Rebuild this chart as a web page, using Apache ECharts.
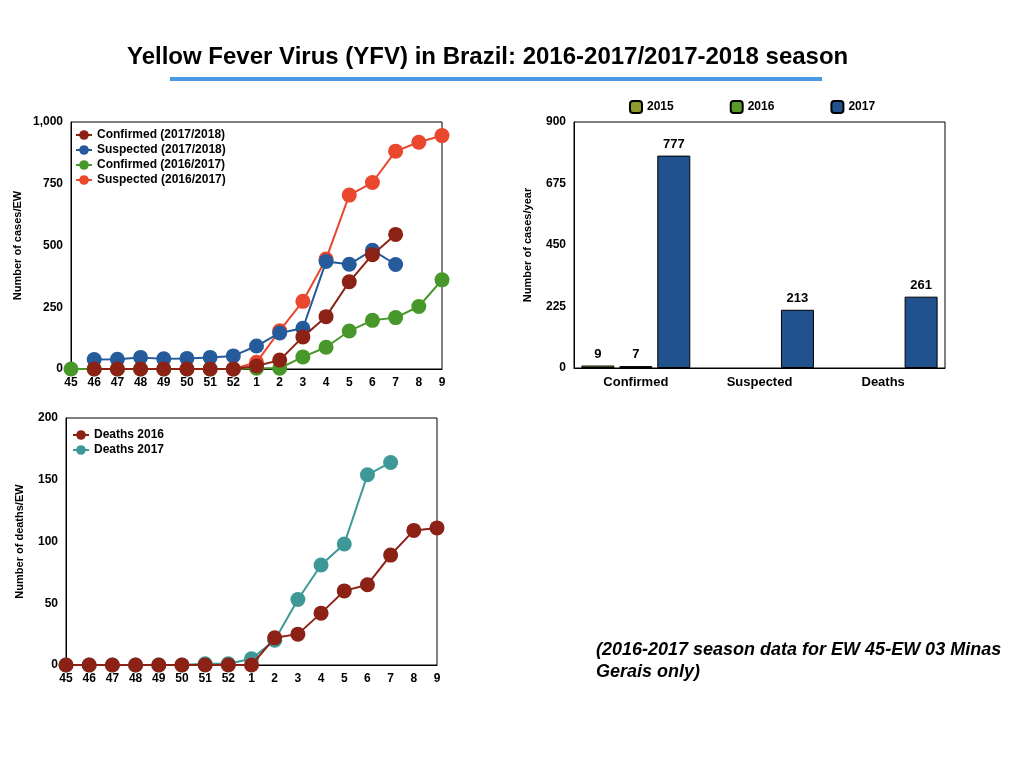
<!DOCTYPE html>
<html><head><meta charset="utf-8">
<script src="https://cdn.jsdelivr.net/npm/echarts@6/dist/echarts.min.js"></script>
<style>html,body{margin:0;padding:0;background:#fff}#c{width:1024px;height:768px}</style>
</head><body><div id="c"></div>
<script>
const weeks = ['45','46','47','48','49','50','51','52','1','2','3','4','5','6','7','8','9'];
const confirmed1718 = [null,0,0,0,0,0,0,0,12,36,130,212,353,463,545,null,null];
const suspected1718 = [null,38,39,47,41,43,47,53,93,146,165,435,424,481,423,null,null];
const confirmed1617 = [0,0,0,0,0,0,0,0,3,3,49,88,154,197,208,253,361];
const suspected1617 = [null,null,null,null,null,null,null,0,27,155,274,445,704,755,882,918,945];
const deaths2016 = [0,0,0,0,0,0,0,0,0,22,25,42,60,65,89,109,111];
const deaths2017 = [0,0,0,0,0,0,1,1,5,20,53,81,98,154,164,null,null];
const barCats = ['Confirmed','Suspected','Deaths'];
const bars2015 = [9,null,null];
const bars2016 = [7,null,null];
const bars2017 = [777,213,261];

const FONT = 'Liberation Sans';
const chart = echarts.init(document.getElementById('c'));
const axisLbl = {color:'#000', fontWeight:'bold', fontSize:12, fontFamily:FONT};
function lineS(name, data, color, xi, z){
  return {type:'line', name, data, xAxisIndex:xi, yAxisIndex:xi, symbol:'circle', symbolSize:15,
    itemStyle:{color}, lineStyle:{color, width:2}, z, connectNulls:false, animation:false};
}
function catX(gi){
  return {type:'category', gridIndex:gi, data:weeks, boundaryGap:false,
    axisLine:{lineStyle:{color:'#000'}}, axisTick:{show:false}, axisLabel:{...axisLbl, margin:8}};
}
function valY(gi, max, interval, name, gap, fmt){
  return {type:'value', gridIndex:gi, min:0, max, interval, name, nameLocation:'middle', nameGap:gap,
    nameTextStyle:{color:'#000', fontWeight:'bold', fontSize:11, fontFamily:FONT},
    splitLine:{show:false}, axisLine:{show:true, lineStyle:{color:'#000'}}, axisTick:{show:false},
    axisLabel:{...axisLbl, formatter: fmt || (v=>v)}};
}
const legText = {color:'#000', fontWeight:'bold', fontSize:12, fontFamily:FONT};
chart.setOption({
  animation:false,
  textStyle:{fontFamily:FONT},
  title:{text:'Yellow Fever Virus (YFV) in Brazil: 2016-2017/2017-2018 season', left:122, top:40,
    textStyle:{fontSize:24, fontWeight:'bold', color:'#000', fontFamily:FONT}},
  graphic:[
    {type:'rect', shape:{x:170, y:77, width:652, height:4}, style:{fill:'#4a99e8'}},
    {type:'text', left:596, top:639, style:{text:'(2016-2017 season data for EW 45-EW 03 Minas\nGerais only)',
      font:'italic bold 18px "Liberation Sans"', fill:'#000', lineHeight:22}}
  ],
  grid:[
    {left:71, top:122, width:371, height:247, show:true, borderColor:'#000', borderWidth:1, backgroundColor:'transparent'},
    {left:574, top:122, width:371, height:246, show:true, borderColor:'#000', borderWidth:1, backgroundColor:'transparent'},
    {left:66, top:418, width:371, height:247, show:true, borderColor:'#000', borderWidth:1, backgroundColor:'transparent'}
  ],
  legend:[
    {data:['Confirmed (2017/2018)','Suspected (2017/2018)','Confirmed (2016/2017)','Suspected (2016/2017)'],
     orient:'vertical', left:70, top:124, itemGap:3, itemWidth:16, itemHeight:12, textStyle:legText},
    {data:['2015','2016','2017'], orient:'horizontal', left:624, top:95, itemGap:56, itemWidth:12, itemHeight:12,
     textStyle:legText},
    {data:['Deaths 2016','Deaths 2017'], orient:'vertical', left:67, top:424, itemGap:3, itemWidth:16, itemHeight:12,
     textStyle:legText}
  ],
  xAxis:[
    catX(0),
    {type:'category', gridIndex:1, data:barCats, axisLine:{lineStyle:{color:'#000'}}, axisTick:{show:false},
     axisLabel:{...axisLbl, fontSize:13, margin:8}},
    catX(2)
  ],
  yAxis:[
    valY(0, 1000, 250, 'Number of cases/EW', 48, v=>v.toLocaleString('en-US')),
    valY(1, 900, 225, 'Number of cases/year', 41),
    valY(2, 200, 50, 'Number of deaths/EW', 41)
  ],
  series:[
    lineS('Confirmed (2016/2017)', confirmed1617, '#47972b', 0, 2),
    lineS('Suspected (2016/2017)', suspected1617, '#e9472e', 0, 3),
    lineS('Suspected (2017/2018)', suspected1718, '#255a9b', 0, 4),
    lineS('Confirmed (2017/2018)', confirmed1718, '#8c2115', 0, 5),
    {type:'bar', name:'2015', data:bars2015, xAxisIndex:1, yAxisIndex:1, barWidth:33, barGap:'15%',
     itemStyle:{color:'#8e9a2c', borderColor:'#000', borderWidth:1},
     label:{show:true, position:'top', color:'#000', fontWeight:'bold', fontSize:13, fontFamily:FONT}},
    {type:'bar', name:'2016', data:bars2016, xAxisIndex:1, yAxisIndex:1, barWidth:33, barGap:'15%',
     itemStyle:{color:'#5a9a2a', borderColor:'#000', borderWidth:1},
     label:{show:true, position:'top', color:'#000', fontWeight:'bold', fontSize:13, fontFamily:FONT}},
    {type:'bar', name:'2017', data:bars2017, xAxisIndex:1, yAxisIndex:1, barWidth:33, barGap:'15%',
     itemStyle:{color:'#22528e', borderColor:'#000', borderWidth:1},
     label:{show:true, position:'top', color:'#000', fontWeight:'bold', fontSize:13, fontFamily:FONT}},
    lineS('Deaths 2017', deaths2017, '#3f9898', 2, 2),
    lineS('Deaths 2016', deaths2016, '#8c2115', 2, 3)
  ]
});
</script></body></html>
